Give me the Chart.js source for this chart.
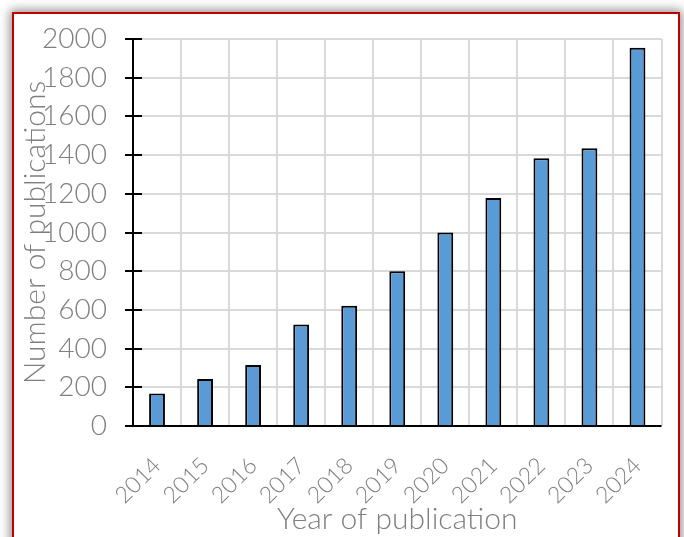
<!DOCTYPE html>
<html>
<head>
<meta charset="utf-8">
<script src="https://cdn.jsdelivr.net/npm/chart.js@4"></script>
<style>
  html, body { margin: 0; padding: 0; background: #ffffff; overflow: hidden; }
  body { width: 684px; height: 537px; position: relative; }
  .frame {
    position: absolute; left: 12px; top: 12px; width: 664px; height: 560px;
    border: 2px solid #c00000; background: #ffffff;
    box-shadow: 0 0 10px 2px rgba(0,0,0,0.45);
  }
  #chart { position: absolute; left: 0; top: 0; }
</style>
</head>
<body>
<div class="frame"></div>
<canvas id="chart" width="684" height="537"></canvas>
<script>
// Publications per year
const years = ['2014', '2015', '2016', '2017', '2018', '2019', '2020', '2021', '2022', '2023', '2024'];
const publications = [168, 243, 315, 525, 622, 800, 1000, 1178, 1384, 1435, 1955];
const yMin = 0;
const yMax = 2000;
const yStep = 200;

const textColor = '#7f7f7f';
const gridColor = '#d9d9d9';
const fontFamily = 'Lato, "Open Sans", sans-serif';

// Black cross-shaped tick marks on the value axis
const crossTicks = {
  id: 'crossTicks',
  afterDatasetsDraw(chart) {
    const { ctx, chartArea, scales } = chart;
    const y = scales.y;
    const x0 = chartArea.left;
    ctx.save();
    ctx.strokeStyle = '#000000';
    ctx.lineWidth = 2;
    ctx.beginPath();
    y.ticks.forEach(t => {
      const py = Math.round(y.getPixelForValue(t.value));
      ctx.moveTo(x0 - 8, py);
      ctx.lineTo(x0 + 9, py);
    });
    // axis lines
    ctx.moveTo(x0, chartArea.top);
    ctx.lineTo(x0, chartArea.bottom);
    ctx.moveTo(x0, chartArea.bottom);
    ctx.lineTo(chartArea.right, chartArea.bottom);
    ctx.stroke();
    ctx.restore();
  }
};

new Chart(document.getElementById('chart'), {
  type: 'bar',
  data: {
    labels: years,
    datasets: [{
      data: publications,
      backgroundColor: '#5b9bd5',
      borderColor: '#000000',
      borderWidth: 2,
      barPercentage: 0.33,
      categoryPercentage: 1.0
    }]
  },
  options: {
    responsive: false,
    animation: false,
    layout: { padding: { left: 17, top: 39, right: 22, bottom: 0 } },
    plugins: { legend: { display: false }, tooltip: { enabled: false } },
    scales: {
      x: {
        offset: true,
        grid: { color: gridColor, lineWidth: 2, offset: true, drawTicks: false },
        border: { display: false },
        ticks: {
          color: textColor,
          font: { family: fontFamily, size: 23, weight: 300 },
          maxRotation: 45, minRotation: 45,
          padding: 26,
          autoSkip: false
        },
        title: {
          display: true,
          text: 'Year of publication',
          color: textColor,
          font: { family: fontFamily, size: 30, weight: 300 },
          padding: { top: 0, bottom: 0 }
        },
        afterFit(scale) { scale.height = 111; }
      },
      y: {
        min: yMin, max: yMax,
        grid: { color: gridColor, lineWidth: 2, drawTicks: false },
        border: { display: false },
        ticks: {
          stepSize: yStep,
          color: textColor,
          font: { family: fontFamily, size: 28, weight: 300 },
          padding: 26,
          callback: v => String(v)
        },
        title: {
          display: true,
          text: 'Number of publications',
          color: textColor,
          font: { family: fontFamily, size: 30, weight: 300 },
          padding: { top: 0, bottom: 0 }
        },
        afterFit(scale) {
          scale.width = 116;
          scale.paddingTop = 0;
          scale.paddingBottom = 0;
        }
      }
    }
  },
  plugins: [crossTicks]
});
</script>
</body>
</html>
